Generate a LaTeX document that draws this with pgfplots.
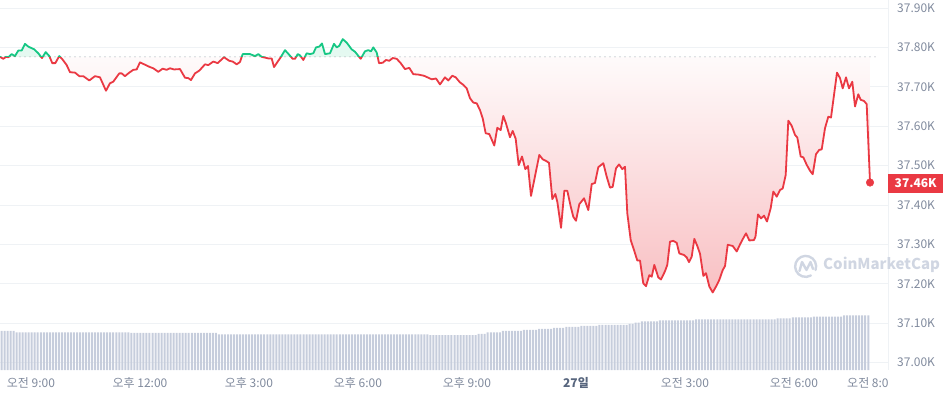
\documentclass[border=0pt]{standalone}
\usepackage{pgfplots}
\pgfplotsset{compat=1.18}
\usepackage{pgfplotstable}
\usepackage{fontspec}
\setmainfont{Noto Sans CJK KR}
\definecolor{cmcred}{RGB}{234,57,67}
\definecolor{cmcgreen}{RGB}{22,199,132}
\definecolor{gridc}{RGB}{239,242,245}
\definecolor{lab}{RGB}{128,138,157}
\definecolor{labdark}{RGB}{88,102,126}
\definecolor{volc}{RGB}{198,205,220}
\definecolor{dotc}{RGB}{130,136,150}
\definecolor{wm}{RGB}{208,214,226}

\pgfplotstableread{
h p
-0.853 37.776
-0.762 37.771
-0.688 37.776
-0.625 37.775
-0.531 37.783
-0.440 37.778
-0.350 37.792
-0.256 37.792
-0.165 37.809
-0.074 37.802
0.019 37.798
0.091 37.795
0.201 37.785
0.303 37.773
0.405 37.788
0.504 37.778
0.586 37.760
0.669 37.760
0.779 37.778
0.862 37.770
0.983 37.755
1.073 37.737
1.211 37.736
1.330 37.727
1.440 37.727
1.605 37.716
1.762 37.727
1.899 37.724
2.064 37.690
2.174 37.709
2.265 37.713
2.430 37.734
2.497 37.734
2.587 37.727
2.706 37.736
2.816 37.743
2.909 37.744
3.000 37.762
3.138 37.756
3.275 37.750
3.366 37.747
3.504 37.738
3.625 37.746
3.735 37.743
3.826 37.747
3.936 37.744
4.101 37.745
4.239 37.723
4.330 37.722
4.404 37.717
4.514 37.734
4.633 37.741
4.790 37.757
4.880 37.755
5.018 37.764
5.139 37.760
5.312 37.775
5.458 37.766
5.552 37.764
5.662 37.757
5.753 37.763
5.827 37.783
6.028 37.783
6.166 37.778
6.257 37.783
6.350 37.776
6.532 37.772
6.625 37.772
6.689 37.750
6.807 37.766
6.881 37.776
6.991 37.793
7.110 37.781
7.203 37.771
7.267 37.771
7.341 37.783
7.404 37.780
7.495 37.768
7.589 37.785
7.680 37.783
7.771 37.785
7.845 37.800
7.936 37.802
8.010 37.810
8.093 37.783
8.230 37.785
8.340 37.809
8.415 37.800
8.486 37.804
8.580 37.821
8.690 37.812
8.827 37.795
8.918 37.789
9.075 37.771
9.193 37.790
9.284 37.793
9.359 37.790
9.422 37.800
9.516 37.787
9.579 37.760
9.681 37.761
9.771 37.768
9.862 37.766
9.956 37.773
10.066 37.771
10.176 37.760
10.294 37.745
10.413 37.748
10.523 37.732
10.660 37.731
10.817 37.728
10.936 37.723
11.029 37.719
11.148 37.721
11.258 37.706
11.395 37.724
11.486 37.716
11.596 37.728
11.690 37.724
11.808 37.711
11.899 37.705
11.993 37.696
12.083 37.671
12.174 37.660
12.268 37.658
12.358 37.641
12.433 37.620
12.515 37.582
12.615 37.580
12.752 37.551
12.835 37.596
12.928 37.590
13.000 37.626
13.074 37.607
13.184 37.572
13.259 37.588
13.341 37.568
13.424 37.501
13.515 37.523
13.606 37.491
13.680 37.499
13.763 37.423
13.991 37.527
14.085 37.516
14.175 37.512
14.258 37.507
14.349 37.415
14.432 37.428
14.487 37.408
14.589 37.342
14.680 37.436
14.762 37.436
14.856 37.396
14.927 37.370
15.001 37.360
15.092 37.402
15.222 37.417
15.340 37.387
15.434 37.453
15.524 37.456
15.615 37.496
15.753 37.506
15.846 37.472
15.937 37.444
16.011 37.446
16.102 37.493
16.185 37.503
16.275 37.491
16.350 37.497
16.413 37.379
16.507 37.311
16.597 37.286
16.688 37.259
16.763 37.259
16.853 37.201
16.928 37.194
17.019 37.222
17.085 37.218
17.157 37.248
17.267 37.216
17.341 37.211
17.451 37.232
17.514 37.248
17.588 37.307
17.679 37.309
17.773 37.304
17.845 37.277
17.974 37.273
18.048 37.267
18.112 37.255
18.186 37.269
18.258 37.314
18.340 37.296
18.415 37.276
18.506 37.220
18.580 37.227
18.671 37.193
18.764 37.178
18.855 37.193
18.946 37.210
19.040 37.235
19.103 37.245
19.177 37.299
19.315 37.296
19.425 37.282
19.516 37.300
19.607 37.316
19.681 37.328
19.772 37.310
19.901 37.311
19.942 37.320
20.011 37.376
20.094 37.366
20.176 37.373
20.259 37.358
20.360 37.392
20.432 37.434
20.526 37.421
20.616 37.438
20.691 37.442
20.773 37.476
20.845 37.614
20.938 37.601
21.029 37.578
21.093 37.571
21.186 37.523
21.258 37.521
21.351 37.502
21.442 37.487
21.516 37.478
21.607 37.529
21.698 37.540
21.764 37.541
21.855 37.595
21.946 37.624
22.020 37.622
22.185 37.736
22.268 37.722
22.342 37.696
22.433 37.724
22.515 37.696
22.606 37.713
22.681 37.650
22.771 37.681
22.837 37.667
22.928 37.664
23.002 37.656
23.094 37.457
}\price

\pgfplotstableread[header=false,row sep=\\]{
39\\39\\39\\39\\39\\
37.7\\37.7\\37.7\\37.7\\37.7\\37.7\\37.7\\37.7\\37.7\\37.7\\
37.7\\37.7\\37.7\\37.7\\37.7\\37.7\\37.7\\37.7\\37.7\\37.7\\
37.7\\37.7\\37.7\\37.7\\37.7\\37.7\\37.7\\37.7\\37.7\\37.7\\
37.7\\37.7\\37.7\\37.7\\37.7\\37.7\\37.7\\37.7\\
37\\37\\37\\37\\37\\37\\37\\37\\37\\37\\
37\\37\\37\\37\\37\\37\\37\\37\\37\\37\\
37\\37\\37\\37\\37\\37\\37\\37\\37\\
35.7\\35.7\\35.7\\35.7\\35.7\\35.7\\35.7\\35.7\\35.7\\35.7\\
35.7\\35.7\\35.7\\35.7\\35.7\\35.7\\35.7\\35.7\\35.7\\35.7\\
35.7\\35.7\\35.7\\35.7\\35.7\\35.7\\35.7\\35.7\\35.7\\35.7\\
35.7\\35.7\\35.7\\35.7\\35.7\\35.7\\35.7\\35.7\\35.7\\35.7\\
35.7\\35.7\\35.7\\35.7\\35.7\\35.7\\35.7\\35.7\\35.7\\35.7\\
35.7\\35.7\\35.7\\35.7\\35.7\\35.7\\35.7\\35.7\\35.7\\35.7\\
35.7\\35.7\\35.7\\35.7\\35.7\\35.7\\35.7\\35.7\\35.7\\35.7\\
35\\35\\35\\35\\35\\35\\35\\35\\35\\35\\
35\\35\\35\\35\\35\\35\\
36\\36\\36\\
37.7\\37.7\\37.7\\37.7\\37.7\\
39\\39\\39\\39\\39\\39\\39\\
40\\40\\40\\40\\40\\
41\\41\\41\\41\\41\\
42\\42\\42\\42\\
43\\43\\43\\43\\43\\
44\\44\\44\\44\\44\\44\\
45\\45\\45\\45\\45\\45\\45\\45\\45\\45\\
46\\46\\
47.3\\47.3\\
48.7\\48.7\\48.7\\48.7\\48.7\\48.7\\
49.7\\49.7\\49.7\\49.7\\49.7\\49.7\\49.7\\49.7\\49.7\\49.7\\
49.7\\49.7\\
50.7\\50.7\\50.7\\50.7\\50.7\\50.7\\50.7\\50.7\\50.7\\50.7\\
50.7\\50.7\\50.7\\50.7\\50.7\\50.7\\50.7\\50.7\\50.7\\50.7\\
50.7\\50.7\\50.7\\50.7\\50.7\\50.7\\50.7\\
51.7\\51.7\\51.7\\51.7\\51.7\\
52.7\\52.7\\52.7\\52.7\\52.7\\52.7\\52.7\\
53.3\\53.3\\53.3\\53.3\\53.3\\53.3\\53.3\\53.3\\53.3\\53.3\\
54.7\\54.7\\54.7\\54.7\\54.7\\54.7\\54.7\\54.7\\54.7\\
}\vol

\begin{document}
\begin{tikzpicture}[x=1pt,y=1pt]

% main price axis
\begin{axis}[
  at={(0pt,26pt)}, anchor=south west,
  width=888pt, height=370pt, scale only axis,
  xmin=-0.853, xmax=23.589,
  ymin=36.9812, ymax=37.9203,
  clip=false,
  axis line style={draw=none},
  tick style={draw=none}, major tick length=0pt,
  ytick={37.0,37.1,37.2,37.3,37.4,37.5,37.6,37.7,37.8,37.9},
  yticklabels={37.00K,37.10K,37.20K,37.30K,37.40K,37.50K,37.60K,37.70K,37.80K,37.90K},
  yticklabel pos=right,
  yticklabel style={anchor=west, inner sep=0pt, xshift=9pt, text=lab, font=\fontsize{12}{14}\selectfont},
  xtick={0,3,6,9,12,15,18,21},
  xticklabels={오전 9:00,오후 12:00,오후 3:00,오후 6:00,오후 9:00,{\bfseries\color{labdark}27일},오전 3:00,오전 6:00},
  xticklabel style={anchor=base, inner sep=0pt, yshift=-17.7pt, text=lab, font=\fontsize{12}{14}\selectfont},
  ymajorgrids, grid style={draw=gridc, line width=0.8pt},
]
\draw[gridc, line width=0.8pt] (rel axis cs:1,0) -- (rel axis cs:1,1);

% area between price and the opening price: red below, green above
\begin{scope}
\clip (axis cs:-1,37.776) rectangle (axis cs:24,36.95);
\addplot[draw=none, top color=white, bottom color=cmcred!32!white, forget plot] table[x=h,y=p] {\price} -- (axis cs:23.094,37.776) -- (axis cs:-0.853,37.776) -- cycle;
\end{scope}
\begin{scope}
\clip (axis cs:-1,37.776) rectangle (axis cs:24,37.95);
\addplot[draw=none, top color=cmcgreen!12!white, bottom color=white, forget plot] table[x=h,y=p] {\price} -- (axis cs:23.094,37.776) -- (axis cs:-0.853,37.776) -- cycle;
\end{scope}

\draw[dotc, line width=1.1pt, line cap=round, dash pattern=on 0pt off 5pt] (axis cs:-0.853,37.776) -- (axis cs:23.286,37.776);

\begin{scope}
\clip (axis cs:-1,37.776) rectangle (axis cs:24,36.95);
\addplot[cmcred, line width=1.8pt, line join=round, forget plot] table[x=h,y=p] {\price};
\end{scope}
\begin{scope}
\clip (axis cs:-1,37.776) rectangle (axis cs:24,37.95);
\addplot[cmcgreen, line width=1.8pt, line join=round, forget plot] table[x=h,y=p] {\price};
\end{scope}

\addplot[only marks, mark=*, mark size=3.8pt, cmcred, forget plot] coordinates {(23.094,37.457)};

\node[fill=cmcred, text=white, font=\bfseries\fontsize{12}{14}\selectfont, minimum width=55pt, minimum height=18.5pt, inner sep=0pt, anchor=west] at (axis cs:23.589,37.455) {37.46K};
\end{axis}

% volume axis
\begin{axis}[
  at={(0pt,26pt)}, anchor=south west,
  width=888pt, height=370pt, scale only axis,
  xmin=-0.497, xmax=293.54, ymin=0, ymax=370,
  hide axis, clip=false,
]
\addplot[ybar, bar width=2pt, fill=volc, draw=none] table[x expr=\coordindex, y index=0] {\vol};
\end{axis}

% clipped last time label
\begin{scope}
\clip (0,0) rectangle (888,396);
\node[anchor=base west, inner sep=0pt, text=lab, font=\fontsize{12}{14}\selectfont] at (847,8.3) {오전 8:00};
\end{scope}

% watermark
\draw[wm, line width=2.4pt, line cap=round] (815.5,126) arc (-20:300:10.5);
\draw[wm, line width=2.4pt, line cap=round, line join=round] (799.5,125) -- (802,134) -- (806.5,126) -- (810.5,134) -- (813,127);
\node[anchor=west, inner sep=0pt, text=wm, font=\bfseries\fontsize{15}{18}\selectfont] at (823,131) {CoinMarketCap};

\pgfresetboundingbox
\useasboundingbox (0,0) rectangle (944,396);
\end{tikzpicture}
\end{document}
